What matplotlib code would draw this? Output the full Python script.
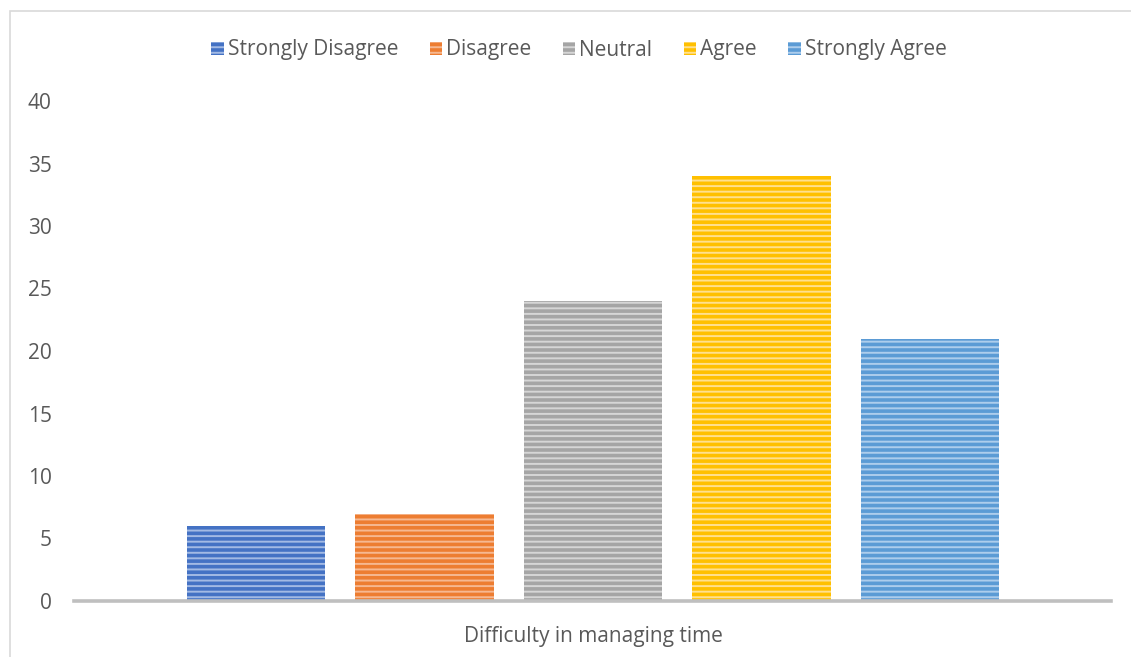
import matplotlib.pyplot as plt
from matplotlib.patches import Rectangle

# Données du graphique
categorie = "Difficulty in managing time"
reponses = ["Strongly Disagree", "Disagree", "Neutral", "Agree", "Strongly Agree"]
valeurs = [6, 7, 24, 34, 21]
couleurs = ["#4472C4", "#ED7D31", "#A5A5A5", "#FFC000", "#5B9BD5"]
rayures = ["#A3BAE4", "#F6B891", "#D6D6D6", "#FFE08F", "#ADCDEC"]
graduations = [0, 5, 10, 15, 20, 25, 30, 35, 40]

plt.rcParams['font.family'] = ['Open Sans', 'DejaVu Sans']
plt.rcParams['hatch.linewidth'] = 1.4

W, H = 1131, 657
fig = plt.figure(figsize=(W / 100, H / 100), dpi=100)
ax = fig.add_axes([74 / W, (H - 601) / H, (1111 - 74) / W, 500 / H])

# Barres
for i, (nom, v) in enumerate(zip(reponses, valeurs)):
    ax.bar(i, v, width=0.82, color=couleurs[i], edgecolor=rayures[i],
           linewidth=0, hatch='---', label=nom)

ax.set_xlim(-1.08, 5.074)
ax.set_ylim(0, 40)
ax.set_yticks(graduations)
ax.set_xticks([2])
ax.set_xticklabels([categorie])
ax.tick_params(axis='both', length=0, colors='#595959', labelsize=15)
ax.tick_params(axis='y', pad=16)
ax.tick_params(axis='x', pad=18)

for s in ['top', 'right', 'left']:
    ax.spines[s].set_visible(False)
ax.spines['bottom'].set_color('#BFBFBF')
ax.spines['bottom'].set_linewidth(2.6)

leg = fig.legend(loc='center', bbox_to_anchor=(579 / W, (H - 50) / H), ncol=5,
                 frameon=False, fontsize=15, handlelength=0.6, handleheight=0.6,
                 handletextpad=0.2, columnspacing=1.5)
for t in leg.get_texts():
    t.set_color('#595959')

# Cadre du graphique
fig.patches.append(Rectangle((10 / W, -0.1), 1.2, (H - 11) / H + 0.1,
                             transform=fig.transFigure, fill=False,
                             edgecolor='#D9D9D9', linewidth=1.2))

fig.savefig('out.png', dpi=100)
